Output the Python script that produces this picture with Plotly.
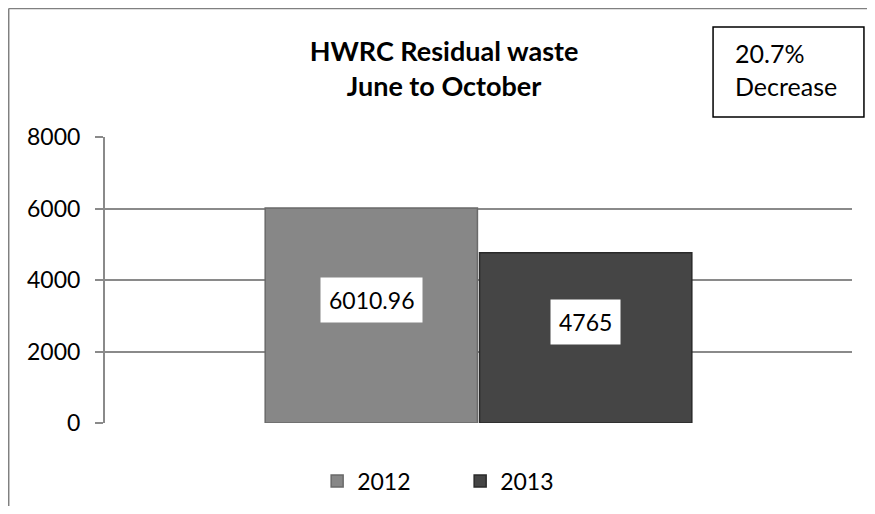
import plotly.graph_objects as go

categories = [""]
years = ["2012", "2013"]
values = [6010.96, 4765]
value_labels = ["6010.96", "4765"]
colors = ["#878787", "#454545"]
line_colors = ["#6a6a6a", "#2a2a2a"]
y_ticks = [0, 2000, 4000, 6000, 8000]

FONT = "Lato, Calibri, 'Liberation Sans', sans-serif"
BARGAP = 0.426

fig = go.Figure()
for yr, v, c, lc in zip(years, values, colors, line_colors):
    fig.add_trace(go.Bar(
        x=categories, y=[v], name=yr,
        marker=dict(color=c, line=dict(color=lc, width=1.5)),
        offsetgroup=yr,
    ))

# data labels (white boxes) centred in each bar
n = len(years)
bar_w = (1 - BARGAP) / n
for i, (v, lab) in enumerate(zip(values, value_labels)):
    xoff = -0.5 * (1 - BARGAP) + bar_w * (i + 0.5)
    fig.add_annotation(
        x=xoff, y=v / 2, xref="x", yref="y", text=lab, showarrow=False,
        bgcolor="white", borderpad=8, yshift=16,
        font=dict(family=FONT, size=23, color="black"),
    )

# "20.7% Decrease" text box
fig.add_shape(type="rect", xref="paper", yref="paper",
              x0=0.814, x1=1.016, y0=1.070, y1=1.385,
              line=dict(color="black", width=1.5), fillcolor="white", layer="above")
fig.add_annotation(
    x=0.841, y=1.235, xref="paper", yref="paper", xanchor="left", yanchor="middle",
    text="20.7%<br>Decrease", showarrow=False, align="left",
    font=dict(family=FONT, size=25, color="black"),
)

# outer chart border (left and top)
fig.add_shape(type="line", xref="paper", yref="paper", x0=-0.1289, x1=-0.1289,
              y0=1.449, y1=-0.33, line=dict(color="#808080", width=1.5))
fig.add_shape(type="line", xref="paper", yref="paper", x0=-0.1289, x1=1.03,
              y0=1.449, y1=1.449, line=dict(color="#808080", width=1.5))

fig.update_layout(
    width=859, height=498,
    margin=dict(l=97, r=15, t=129, b=83, autoexpand=False),
    paper_bgcolor="white", plot_bgcolor="white",
    barmode="group", bargap=BARGAP, bargroupgap=0.01,
    title=dict(text="<b>HWRC Residual waste<br>June to October</b>",
               x=0.5076, xanchor="center", y=0.8936, yanchor="middle",
               font=dict(family=FONT, size=27, color="black")),
    showlegend=True,
    legend=dict(orientation="h", x=0.284, xanchor="left", y=-0.203, yanchor="middle",
                font=dict(family=FONT, size=23, color="black"),
                entrywidth=98, entrywidthmode="pixels", traceorder="normal"),
    font=dict(family=FONT),
)
fig.update_xaxes(showticklabels=False, showgrid=False, showline=False, zeroline=False)
fig.update_yaxes(range=[0, 8000], tickvals=y_ticks, showgrid=True, gridcolor="#8a8a8a",
                 gridwidth=2, showline=True, linecolor="#8a8a8a", linewidth=2,
                 ticks="outside", ticklen=8, tickcolor="#8a8a8a", tickwidth=2,
                 zeroline=False, ticklabelstandoff=10,
                 tickfont=dict(family=FONT, size=23, color="black"))

fig.write_html("out.html")
